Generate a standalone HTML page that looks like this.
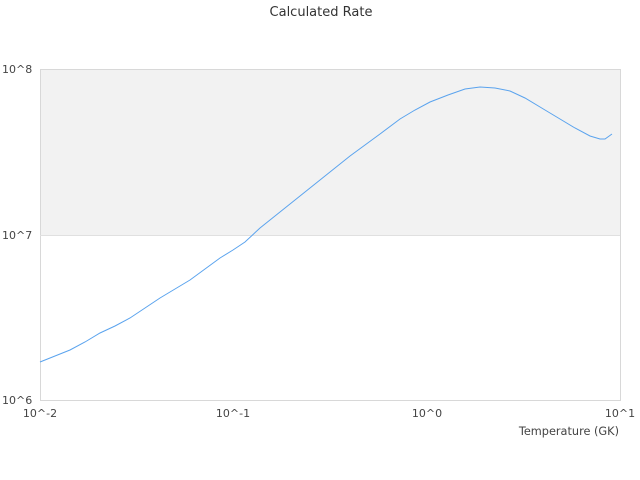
<!DOCTYPE html>
<html><head><style>body{margin:0;background:#fff}svg{display:block}</style></head><body>
<svg width="640" height="480" xmlns="http://www.w3.org/2000/svg" font-family="DejaVu Sans, sans-serif">
<rect width="640" height="480" fill="#fff"/>
<rect x="40.5" y="69.5" width="580" height="166" fill="#f2f2f2"/>
<rect x="40.5" y="69.5" width="580" height="331" fill="none" stroke="#d8d8d8"/>
<line x1="40" y1="235.5" x2="620" y2="235.5" stroke="#e0e0e0"/>
<text x="321" y="16" font-size="13" fill="#333" text-anchor="middle">Calculated Rate</text>
<g font-size="11" fill="#444">
<text x="2" y="73">10^8</text>
<text x="2" y="239">10^7</text>
<text x="2" y="404">10^6</text>
<text x="40" y="417" text-anchor="middle">10^-2</text>
<text x="233" y="417" text-anchor="middle">10^-1</text>
<text x="427" y="417" text-anchor="middle">10^0</text>
<text x="620" y="417" text-anchor="middle">10^1</text>
<text x="619" y="435" font-size="11.3" text-anchor="end">Temperature (GK)</text>
</g>
<polyline fill="none" stroke="#5aa3ee" stroke-width="1" points="40,362 55,356 70,350 85,342 100,333 115,326 130,318 145,308 160,298 175,289 190,280 205,269 220,258 233,250 245,242 260,228 275,216 290,204 305,192 320,180 335,168 350,156 365,145 380,134 400,119 415,110 430,102 448,95 465,89 480,87 495,88 510,91 525,98 545,110 560,119 575,128 590,136 600,139 605,139 612,134"/>
</svg>
</body></html>
